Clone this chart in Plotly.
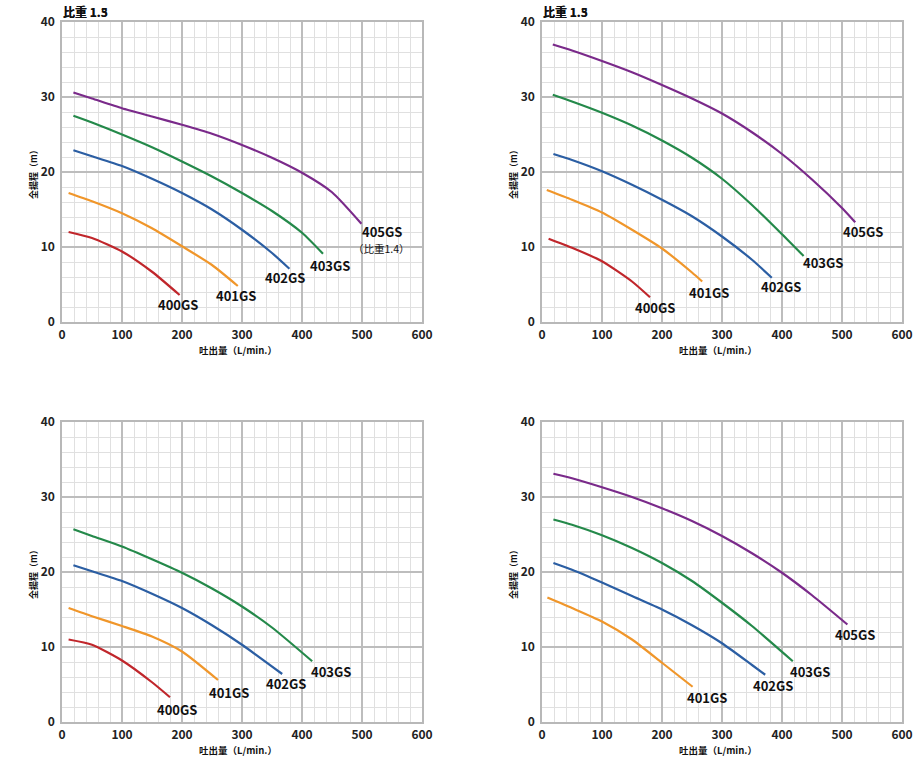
import plotly.graph_objects as go

W, H = 919, 763
FONT = "Noto Sans CJK JP"

COLORS = {"400GS": "#c0262b", "401GS": "#f0962a", "402GS": "#2b5ea3",
          "403GS": "#24894a", "405GS": "#7a2a8a"}

# ---- data (flow L/min, head m) ----
tl_400_x = [11, 50, 100, 150, 196]
tl_400_y = [12.0, 11.2, 9.4, 6.7, 3.6]
tl_401_x = [11, 50, 100, 150, 200, 250, 293]
tl_401_y = [17.2, 16.1, 14.5, 12.5, 10.1, 7.6, 4.8]
tl_402_x = [19, 50, 100, 150, 200, 250, 300, 350, 379]
tl_402_y = [22.9, 22.1, 20.8, 19.1, 17.2, 15.0, 12.3, 9.2, 7.1]
tl_403_x = [19, 50, 100, 150, 200, 250, 300, 350, 400, 435]
tl_403_y = [27.5, 26.6, 25.0, 23.3, 21.4, 19.4, 17.2, 14.8, 11.9, 9.1]
tl_405_x = [19, 50, 100, 150, 200, 250, 300, 350, 400, 450, 499]
tl_405_y = [30.6, 29.8, 28.5, 27.4, 26.3, 25.1, 23.6, 21.9, 19.9, 17.3, 13.1]

tr_400_x = [11, 50, 100, 150, 180]
tr_400_y = [11.1, 9.9, 8.1, 5.4, 3.3]
tr_401_x = [8, 50, 100, 150, 200, 250, 267]
tr_401_y = [17.6, 16.3, 14.6, 12.3, 9.8, 6.6, 5.4]
tr_402_x = [19, 50, 100, 150, 200, 250, 300, 350, 383]
tr_402_y = [22.4, 21.6, 20.1, 18.3, 16.3, 14.1, 11.4, 8.3, 5.9]
tr_403_x = [18, 50, 100, 150, 200, 250, 300, 350, 400, 436]
tr_403_y = [30.3, 29.4, 27.9, 26.2, 24.2, 21.9, 19.1, 15.6, 11.7, 8.8]
tr_405_x = [18, 50, 100, 150, 200, 250, 300, 350, 400, 450, 500, 522]
tr_405_y = [37.0, 36.2, 34.8, 33.3, 31.6, 29.8, 27.8, 25.3, 22.4, 19.0, 15.2, 13.3]

bl_400_x = [11, 50, 100, 150, 180]
bl_400_y = [11.0, 10.3, 8.2, 5.3, 3.3]
bl_401_x = [11, 50, 100, 150, 200, 260]
bl_401_y = [15.2, 14.1, 12.8, 11.4, 9.4, 5.6]
bl_402_x = [19, 50, 100, 150, 200, 250, 300, 367]
bl_402_y = [20.9, 20.1, 18.8, 17.1, 15.2, 12.9, 10.3, 6.4]
bl_403_x = [19, 50, 100, 150, 200, 250, 300, 350, 417]
bl_403_y = [25.7, 24.8, 23.4, 21.7, 19.9, 17.8, 15.4, 12.6, 8.1]

br_401_x = [9, 50, 100, 150, 200, 251]
br_401_y = [16.6, 15.2, 13.4, 11.0, 7.9, 4.7]
br_402_x = [19, 50, 100, 150, 200, 250, 300, 350, 372]
br_402_y = [21.2, 20.3, 18.6, 16.8, 15.0, 12.9, 10.5, 7.6, 6.3]
br_403_x = [19, 50, 100, 150, 200, 250, 300, 350, 418]
br_403_y = [27.0, 26.3, 24.9, 23.2, 21.2, 18.8, 15.9, 12.8, 8.1]
br_405_x = [19, 50, 100, 150, 200, 250, 300, 350, 400, 450, 509]
br_405_y = [33.1, 32.5, 31.3, 30.0, 28.5, 26.8, 24.8, 22.5, 19.9, 16.9, 13.0]

panels = [
    dict(title="比重 1.3", px=(62, 422), py=(22, 322),
         series=[("400GS", tl_400_x, tl_400_y), ("401GS", tl_401_x, tl_401_y),
                 ("402GS", tl_402_x, tl_402_y), ("403GS", tl_403_x, tl_403_y),
                 ("405GS", tl_405_x, tl_405_y)],
         labels=[("400GS", 193, 2.3), ("401GS", 290, 3.5), ("402GS", 371, 5.9),
                 ("403GS", 446, 7.6), ("405GS", 533, 12.0), ("（比重1.4）", 533, 9.8)]),
    dict(title="比重 1.3", px=(542, 902), py=(22, 322),
         series=[("400GS", tr_400_x, tr_400_y), ("401GS", tr_401_x, tr_401_y),
                 ("402GS", tr_402_x, tr_402_y), ("403GS", tr_403_x, tr_403_y),
                 ("405GS", tr_405_x, tr_405_y)],
         labels=[("400GS", 188, 1.9), ("401GS", 279, 4.0), ("402GS", 398, 4.8),
                 ("403GS", 468, 7.9), ("405GS", 535, 12.0)]),
    dict(title="比重 1.5", px=(62, 422), py=(422, 722),
         series=[("400GS", bl_400_x, bl_400_y), ("401GS", bl_401_x, bl_401_y),
                 ("402GS", bl_402_x, bl_402_y), ("403GS", bl_403_x, bl_403_y)],
         labels=[("400GS", 192, 1.7), ("401GS", 278, 3.9), ("402GS", 374, 5.2),
                 ("403GS", 449, 6.8)]),
    dict(title="比重 1.5", px=(542, 902), py=(422, 722),
         series=[("401GS", br_401_x, br_401_y), ("402GS", br_402_x, br_402_y),
                 ("403GS", br_403_x, br_403_y), ("405GS", br_405_x, br_405_y)],
         labels=[("401GS", 275, 3.3), ("402GS", 385, 4.9), ("403GS", 446, 6.8),
                 ("405GS", 521, 11.7)]),
]

x_ticks = [0, 100, 200, 300, 400, 500, 600]
y_ticks = [0, 10, 20, 30, 40]

fig = go.Figure()
annotations = []
layout = {}
for i, p in enumerate(panels, start=1):
    sfx = "" if i == 1 else str(i)
    xa, ya = "x" + sfx, "y" + sfx
    x0, x1 = p["px"]
    y0, y1 = p["py"]
    xdom = [x0 / W, x1 / W]
    ydom = [(H - y1) / H, (H - y0) / H]
    common = dict(showline=True, linecolor="#b8b8b8", linewidth=1.5, mirror=True,
                  showgrid=True, gridcolor="#bdbdbd", gridwidth=1.5,
                  zeroline=False, ticks="", fixedrange=True, automargin=False,
                  tickfont=dict(family=FONT, size=12, color="#222", weight=600))
    layout["xaxis" + sfx] = dict(domain=xdom, range=[0, 600], anchor=ya,
                                 tickvals=x_ticks, ticklabelstandoff=1,
                                 minor=dict(dtick=20, tick0=0, showgrid=True,
                                            gridcolor="#e0e0e0", gridwidth=1),
                                 **common)
    layout["yaxis" + sfx] = dict(domain=ydom, range=[0, 40], anchor=xa,
                                 tickvals=y_ticks, ticklabelstandoff=3,
                                 minor=dict(dtick=2, tick0=0, showgrid=True,
                                            gridcolor="#e0e0e0", gridwidth=1),
                                 **common)
    for name, xs, ys in p["series"]:
        fig.add_trace(go.Scatter(x=xs, y=ys, mode="lines", xaxis=xa, yaxis=ya,
                                 line=dict(color=COLORS[name], width=2.2,
                                           shape="spline", smoothing=0.6),
                                 showlegend=False, hoverinfo="skip"))
    for text, lx, ly in p["labels"]:
        small = "比" in text
        annotations.append(dict(text=text, x=lx, y=ly, xref=xa, yref=ya,
                                showarrow=False,
                                font=dict(family=FONT, size=10.5 if small else 13,
                                          color="#111", weight=400 if small else 600)))
    # panel title
    annotations.append(dict(text="<b>" + p["title"] + "</b>", x=(x0 - 1) / W, y=(H - 12) / H,
                            xref="paper", yref="paper", xanchor="left", yanchor="middle",
                            showarrow=False, font=dict(family=FONT, size=12, color="#111")))
    # y axis title
    annotations.append(dict(text="<b>全揚程（m）</b>", x=(x0 - 29) / W, y=(H - (y0 + y1) / 2) / H,
                            xref="paper", yref="paper", textangle=-90,
                            xanchor="center", yanchor="middle", showarrow=False,
                            font=dict(family=FONT, size=9, color="#111")))
    # x axis title
    annotations.append(dict(text="<b>吐出量（L/min.）</b>", x=(x0 + x1) / 2 / W - 4 / W,
                            y=(H - (y1 + 28)) / H, xref="paper", yref="paper",
                            xanchor="center", yanchor="middle", showarrow=False,
                            font=dict(family=FONT, size=9.5, color="#111")))

fig.update_layout(width=W, height=H, margin=dict(l=0, r=0, t=0, b=0),
                  paper_bgcolor="white", plot_bgcolor="white",
                  annotations=annotations, **layout)
fig.write_html("out.html", config={"displayModeBar": False})
